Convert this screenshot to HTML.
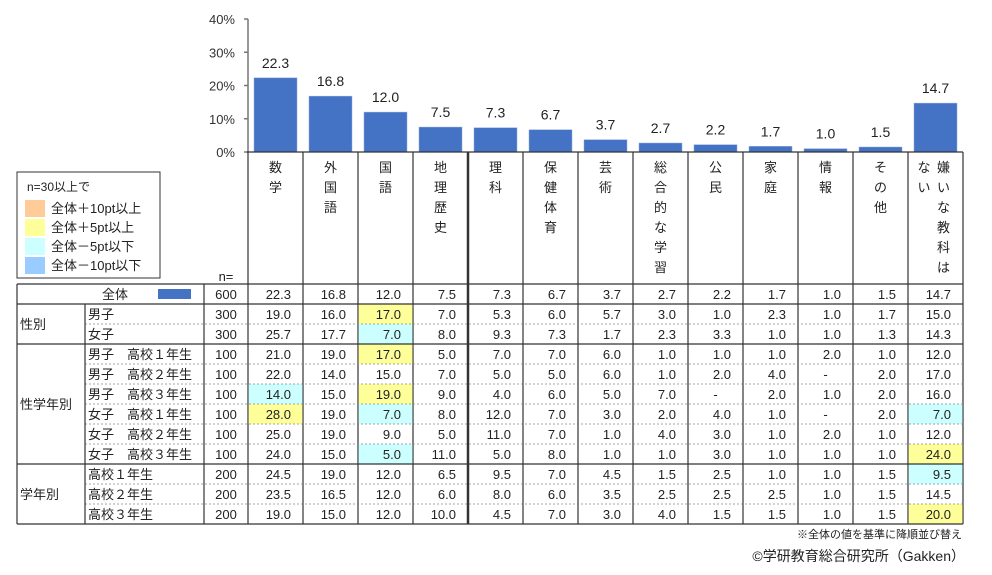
<!DOCTYPE html>
<html><head><meta charset="utf-8">
<style>
body{margin:0;background:#fff;}
svg{display:block;font-family:"Liberation Sans","Noto Sans CJK JP",sans-serif;}
</style></head>
<body>
<svg id="chart" width="992" height="575" viewBox="0 0 992 575" xmlns="http://www.w3.org/2000/svg"></svg>
<script>
const subjects = [["数","学"],["外","国","語"],["国","語"],["地","理","歴","史"],["理","科"],["保","健","体","育"],["芸","術"],["総","合","的","な","学","習"],["公","民"],["家","庭"],["情","報"],["そ","の","他"],["嫌","い","な","教","科","は"]];
const totalValues = [22.3,16.8,12.0,7.5,7.3,6.7,3.7,2.7,2.2,1.7,1.0,1.5,14.7];
const yTicks = [0,10,20,30,40];
const rowLabels = ["男子","女子","男子　高校１年生","男子　高校２年生","男子　高校３年生","女子　高校１年生","女子　高校２年生","女子　高校３年生","高校１年生","高校２年生","高校３年生"];
const rowN = [300,300,100,100,100,100,100,100,200,200,200];
const rowValues = [
 [19.0,16.0,17.0,7.0,5.3,6.0,5.7,3.0,1.0,2.3,1.0,1.7,15.0],
 [25.7,17.7,7.0,8.0,9.3,7.3,1.7,2.3,3.3,1.0,1.0,1.3,14.3],
 [21,19,17,5,7,7,6,1,1,1,2,1,12],
 [22,14,15,7,5,5,6,1,2,4,null,2,17],
 [14,15,19,9,4,6,5,7,null,2,1,2,16],
 [28,19,7,8,12,7,3,2,4,1,null,2,7],
 [25,19,9,5,11,7,1,4,3,1,2,1,12],
 [24,15,5,11,5,8,1,1,3,1,1,1,24],
 [24.5,19,12,6.5,9.5,7,4.5,1.5,2.5,1,1,1.5,9.5],
 [23.5,16.5,12,6,8,6,3.5,2.5,2.5,2.5,1,1.5,14.5],
 [19,15,12,10,4.5,7,3,4,1.5,1.5,1,1.5,20]
];
const groups = [["性別",0,2],["性学年別",2,8],["学年別",8,11]];

const NS="http://www.w3.org/2000/svg";
const svg=document.getElementById('chart');
function mk(tag,attrs,parent){const e=document.createElementNS(NS,tag);for(const k in attrs)e.setAttribute(k,attrs[k]);(parent||svg).appendChild(e);return e;}
function txt(s,x,y,attrs){const e=mk('text',Object.assign({x:x,y:y,'font-size':12,fill:'#222'},attrs||{}));e.textContent=s;return e;}

const X0=248, CW=55, Y0=152, PX=133/40;
const colX=i=>X0+i*CW;
const yS=v=>Y0-v*PX;

const ax=mk('line',{x1:X0,y1:yS(40),x2:X0,y2:Y0,stroke:'#777','stroke-width':1.5});


yTicks.forEach(t=>{
  const l=mk('line',{x1:X0-4,y1:yS(t),x2:X0,y2:yS(t),stroke:'#777','stroke-width':1.5});
  
  
  const tl=txt(t+'%',X0-13,yS(t)+5,{'text-anchor':'end','font-size':13,fill:'#333'});
  
  
});
totalValues.forEach((v,i)=>{
  const b=mk('rect',{x:colX(i)+6,y:yS(v),width:43,height:v*PX,fill:'#4472c4',stroke:'#8faadc','stroke-width':0.5});
  
  
  const l=txt(v.toFixed(1),colX(i)+CW/2,yS(v)-10,{'text-anchor':'middle','font-size':14});
  
  
});
for(let i=0;i<=13;i++){
  const l=mk('line',{x1:colX(i),y1:Y0,x2:colX(i),y2:524,stroke:'#333','stroke-width':i==4?2.5:1.2});
  
  
}
mk('line',{x1:X0-1,y1:Y0,x2:colX(13),y2:Y0,stroke:'#333','stroke-width':1.2});
subjects.forEach((chars,i)=>{
  const cx=colX(i)+CW/2 + (i==12?8:0);
  chars.forEach((c,k)=>{
    const t=txt(c,cx,172+k*20,{'text-anchor':'middle','font-size':13});
    
    
  });
});
["な","い"].forEach((c,k)=>{const t=txt(c,colX(12)+16,172+k*20,{'text-anchor':'middle','font-size':13});});
txt('n=',226,281,{'text-anchor':'middle','font-size':13});

const lg=mk('g',{});


mk('rect',{x:17,y:172,width:143,height:106,fill:'#fff',stroke:'#333','stroke-width':1},lg);
txt('n=30以上で',27,191,{'font-size':12});
[["#ffcc99","全体＋10pt以上"],["#ffff99","全体＋5pt以上"],["#ccffff","全体－5pt以下"],["#99ccff","全体－10pt以下"]].forEach((d,k)=>{
  const r=mk('rect',{x:25,y:200+k*19,width:20,height:17,fill:d[0]},lg);
  
  
  const t=txt(d[1],51,213+k*19,{'font-size':13});
  
  
});

const TL=17, RH=20, TOP=284;
function rowY(r){return TOP+RH*(r+1);}
rowValues.forEach((vals,r)=>{
  vals.forEach((v,i)=>{
    if(v===null)return;
    const d=v-totalValues[i];
    let c=null;
    if(d>=9.95)c='#ffcc99';else if(d>=4.95)c='#ffff99';else if(d<=-9.95)c='#99ccff';else if(d<=-4.95)c='#ccffff';
    if(c){const h=mk('rect',{x:colX(i)+0.6,y:rowY(r),width:CW-1.2,height:RH,fill:c});}
  });
});
txt('全体',115,299,{'text-anchor':'middle','font-size':13});
mk('rect',{x:158,y:289,width:33,height:10,fill:'#4472c4'});
txt('600',226,299,{'text-anchor':'middle','font-size':13});
totalValues.forEach((v,i)=>{const t=txt(v.toFixed(1),colX(i)+CW-12,299,{'text-anchor':'end','font-size':13});});
rowValues.forEach((vals,r)=>{
  const y=rowY(r)+15;
  const lt=txt(rowLabels[r],88,y,{'font-size':13});
  
  
  txt(String(rowN[r]),226,y,{'text-anchor':'middle','font-size':13});
  vals.forEach((v,i)=>{
    const t=txt(v===null?'-':v.toFixed(1),v===null?colX(i)+CW/2:colX(i)+CW-12,y,{'text-anchor':v===null?'middle':'end','font-size':13});
    
    
  });
});
mk('line',{x1:TL,y1:TOP,x2:colX(13),y2:TOP,stroke:'#333','stroke-width':1.2});
groups.forEach(g=>{
  const y1=rowY(g[1]), y2=rowY(g[2]);
  mk('line',{x1:TL,y1:y1,x2:colX(13),y2:y1,stroke:'#333','stroke-width':1.2});
  for(let r=g[1]+1;r<g[2];r++) mk('line',{x1:85,y1:rowY(r),x2:colX(13),y2:rowY(r),stroke:'#888','stroke-width':0.8,'stroke-dasharray':'2,2'});
  const gl=txt(g[0],20,(y1+y2)/2+5,{'font-size':13});
  
  
});
mk('line',{x1:TL,y1:524,x2:colX(13),y2:524,stroke:'#333','stroke-width':1.2});
mk('line',{x1:TL,y1:TOP,x2:TL,y2:524,stroke:'#333','stroke-width':1.2});
mk('line',{x1:85,y1:rowY(0),x2:85,y2:524,stroke:'#333','stroke-width':1.2});
mk('line',{x1:204,y1:TOP,x2:204,y2:524,stroke:'#333','stroke-width':1.2});

const n1=txt('※全体の値を基準に降順並び替え',962,538,{'text-anchor':'end','font-size':11});


const n2=txt('©学研教育総合研究所（Gakken）',965,561,{'text-anchor':'end','font-size':14});


</script>
</body></html>
